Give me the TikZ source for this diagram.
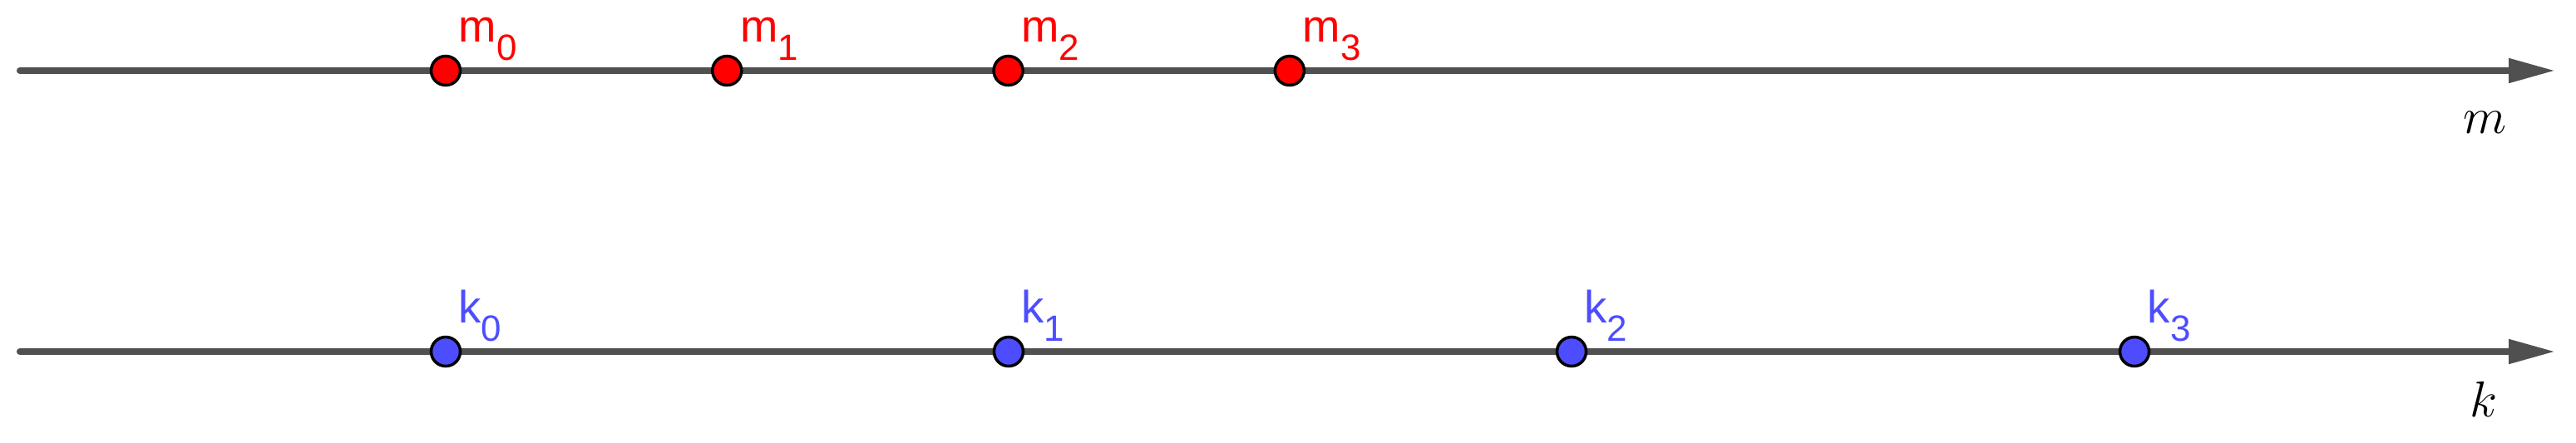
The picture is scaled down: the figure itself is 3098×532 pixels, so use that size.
\documentclass[tikz,border=0pt]{standalone}
\usepackage{fontspec}
\newfontfamily\lblfont{Liberation Sans}
\usetikzlibrary{arrows.meta}

\definecolor{axisgray}{RGB}{80,80,80}
\definecolor{mred}{RGB}{255,0,0}
\definecolor{kblue}{RGB}{77,77,255}

\newcommand{\ptsub}[1]{\raisebox{-6.5pt}{\fontsize{12.5}{13}\selectfont #1}}

\tikzset{
    axis/.style={draw=axisgray, line width=2.3pt, line cap=round,
        -{Triangle[length=0.56cm, width=0.28cm]}},
    dot/.style={circle, draw=black, line width=1pt, minimum size=0.35cm, inner sep=0pt},
    ptlabel/.style={anchor=base west, inner sep=0pt, font=\lblfont\fontsize{15.5}{16}\selectfont},
    axlabel/.style={inner sep=0pt, font=\fontsize{18}{20}\selectfont}
}

\begin{document}
\begin{tikzpicture}[x=0.01cm,y=0.01cm]
        \useasboundingbox (0,0) rectangle (3098,532);

        % Axis ends
        \coordinate (mstart) at (24,447);
        \coordinate (mend) at (3073,447);
        \coordinate (kstart) at (24,109);
        \coordinate (kend) at (3073,109);

        % Draw axes
        \draw[axis] (mstart) -- (mend);
        \draw[axis] (kstart) -- (kend);

        % Label axes
        \node[axlabel] (mname) at (2988,385) {$m$};
        \node[axlabel] (kname) at (2987,52) {$k$};

        % Points on the m axis
        \foreach \i in {0,...,3} {
            \node[dot, fill=mred] (m\i) at (536+338.3*\i,447) {};
            \node[ptlabel, text=mred] (lm\i) at ([shift={(15,35)}]m\i.center) {m\ptsub{\i}};
        }

        % Points on the k axis
        \foreach \i in {0,...,3} {
            \node[dot, fill=kblue] (k\i) at (536+677*\i,109) {};
            \node[ptlabel, text=kblue] (lk\i) at ([shift={(15,35)}]k\i.center) {k\ptsub{\i}};
        }
\end{tikzpicture}
\end{document}
